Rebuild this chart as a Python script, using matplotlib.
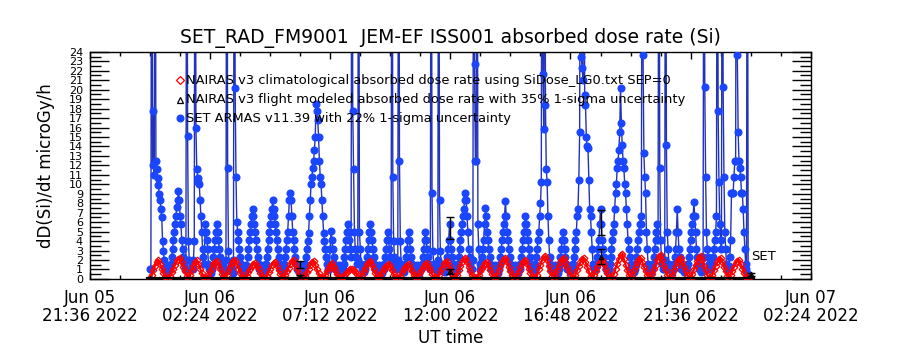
import matplotlib
matplotlib.use("Agg")
import matplotlib.pyplot as plt
import numpy as np
from datetime import datetime, timedelta

# Time axis: minutes after 2022-06-06 00:00 UT
t_ref = datetime(2022, 6, 6, 0, 0)
xlim_min = (-144, 1584)          # Jun 05 21:36 .. Jun 07 02:24
xtick_min = [-144, 144, 432, 720, 1008, 1296, 1584]

# SET ARMAS v11.39 dose rate (microGy/h), one sample every 2 min from 00:00
armas_step = 2
armas_rate = [
    1, 1, 60, 12, 17.7, 11, 60, 12.5, 11.6, 10.7, 9.9, 9, 8.3, 7.4, 6.5, 4, 3, 2, 1, 1.5, 1, 0.6, 1, 1.4,
    1, 1.6, 2.3, 3.2, 4.1, 5, 5.8, 6.7, 7.6, 8.3, 9.3, 8.3, 6.7, 5.8, 4.1, 3.2, 2.3, 1.6, 1, 2, 60, 15.1, 4, 2,
    1, 1, 1.5, 1, 2, 4, 60, 15.9, 11.6, 10.7, 10.2, 10, 8.3, 6.7, 5, 3.2, 2.3, 1.6, 5.8, 5, 4.1, 3.2, 1.6, 1,
    1, 0.6, 1, 1.5, 2.3, 3.2, 4.1, 5, 5.8, 5, 4.1, 3.2, 2.3, 1.6, 1, 1, 1.4, 0.7, 1, 2, 60, 11.7, 3, 1,
    1, 1.5, 1, 0.6, 2, 60, 20.2, 10.8, 6, 5, 4.1, 3.2, 2.3, 1.6, 1, 1, 1.4, 0.7, 1, 1.5, 1, 2.3, 3.2, 4.1,
    5, 5.8, 6.7, 7.4, 6.7, 5.8, 5, 4.1, 3.2, 2.3, 1.6, 1, 1, 1.4, 0.7, 1, 1.5, 1, 1, 1.6, 2.3, 3.2, 4.1, 5,
    5.8, 6.7, 7.4, 8.3, 7.4, 6.7, 5.8, 5, 4.1, 3.2, 2.3, 1.6, 1, 1, 1.4, 0.7, 1, 1.6, 2.3, 3.2, 4.1, 5, 6.7, 8.3,
    9.1, 8.3, 6.7, 5, 4.1, 3.2, 2.3, 1.6, 1, 1, 1.4, 0.7, 1, 1.5, 1, 1, 0.6, 1, 1.6, 2.3, 3.2, 4, 4.9, 6.7,
    8.3, 10, 10.8, 11.7, 12.5, 13.6, 15, 18.5, 17.7, 16.8, 15, 12.5, 10.8, 10, 8.3, 6.7, 4.9, 4, 3.2, 2.3, 1.6, 1, 1, 1.6,
    3.2, 5.1, 4.1, 3.2, 2.3, 1.6, 1, 1, 1.4, 0.7, 1, 1.5, 1, 1, 0.6, 1, 1.6, 2.3, 3.2, 4.1, 5, 5.8, 5, 4.1,
    3.2, 2.3, 60, 17.7, 11.6, 5, 3.2, 2.3, 1.6, 2, 60, 5, 3.2, 1.6, 1, 1, 1.4, 0.7, 1, 1.6, 2.3, 3.2, 4.1, 5,
    5.8, 5, 4.1, 3.2, 2.3, 1.6, 1, 1, 1.4, 0.7, 1, 1.5, 1, 1, 0.6, 1, 1, 1.6, 2.3, 3.2, 4.1, 5, 4.1, 3.2,
    2.3, 2, 60, 10.8, 4, 2.3, 1.6, 1, 1, 2, 60, 12.5, 4, 1.6, 1, 1.4, 0.7, 1, 1.6, 2.3, 3.2, 4.1, 5, 4.1,
    3.2, 2.3, 1.6, 1, 1, 1.4, 0.7, 1, 1.5, 1, 1, 0.6, 1, 1, 1.6, 2.3, 3.2, 4.1, 5, 4.1, 3.2, 2.3, 1.6, 1,
    1, 60, 9.1, 3, 1.6, 1, 1, 1.4, 0.7, 2, 60, 8.3, 3, 1.6, 1, 1, 1.4, 0.7, 1, 1.6, 2.3, 3.2, 4.1, 5.8,
    4.1, 3.2, 2.3, 1.6, 1, 1, 1.4, 0.7, 1, 1.6, 2.3, 3.2, 4.1, 5, 5.8, 6.7, 7.4, 8.3, 9.1, 8.3, 6.7, 5, 3.2, 2.3,
    1.6, 1, 1, 2, 60, 22.7, 12.5, 12.5, 60, 5.8, 3.2, 1.6, 1, 1.6, 2.3, 3.2, 4.1, 5.8, 7.5, 6.7, 5, 4.1, 3.2, 2.3,
    1.6, 1, 1, 1.4, 0.7, 1, 1.5, 1, 1, 0.6, 1, 1.6, 2.3, 3.2, 4.1, 5, 5.8, 6.7, 8.2, 6.7, 5, 4.1, 3.2, 2.3,
    1.6, 1, 1, 1.4, 0.7, 1, 1.5, 1, 1, 0.6, 1, 1, 1.6, 2.3, 3.2, 4.1, 5, 5.8, 6.6, 5.8, 5, 4.1, 3.2, 2.3,
    1.6, 1, 1, 1.4, 0.7, 1, 1.6, 2.3, 3.2, 4.1, 5, 6.6, 8, 10.2, 60, 21.7, 15.8, 60, 18.4, 11.6, 10.2, 6.6, 4.1, 2.3,
    1.6, 1, 1, 1.4, 0.7, 1, 1.5, 1, 1, 0.6, 1, 1.6, 2.3, 3.2, 4.1, 5, 4.1, 3.2, 2.3, 1.6, 1, 1, 1.4, 0.7,
    1, 1.5, 1, 1.6, 2.3, 3.2, 4.1, 5, 6.6, 7.4, 10.5, 15.5, 60, 23.4, 22.3, 21, 60, 19.4, 18.4, 15, 14, 13.8, 10.5, 7.4,
    6.6, 5, 3.2, 1.6, 1, 1, 1.4, 1.6, 2.3, 3.2, 4.1, 5.8, 7.4, 5.8, 4.1, 3.2, 2.3, 1.6, 1, 1, 1.4, 0.7, 1, 1.6,
    2.3, 3.2, 4.1, 5, 5.8, 7.4, 9.1, 10, 11.7, 12.5, 13.6, 15.5, 20.2, 16.5, 14.2, 12.5, 11.7, 10, 9.1, 7.4, 5.8, 4.1, 3.2, 2.3,
    1.6, 1, 1, 1.4, 0.7, 1, 1.6, 2.3, 3.2, 4.1, 5, 5.8, 6.6, 5.8, 60, 23.7, 13.3, 10.8, 9.1, 5, 3.2, 1.6, 1, 1,
    1.4, 0.7, 1, 1.6, 2.3, 3.2, 4.1, 5, 5.8, 4.1, 60, 11.7, 4.1, 2.3, 1.6, 1, 1, 2, 60, 14.2, 5, 3.2, 1.6, 1,
    1, 1.4, 0.7, 1, 1.6, 2.3, 3.2, 5, 7.4, 5, 3.2, 2.3, 1.6, 1, 1, 1.4, 0.7, 1, 1.5, 1, 1, 1.6, 2.3, 3.2,
    4.1, 5, 5.8, 6.6, 8.1, 6.6, 5, 3.2, 2.3, 1.6, 1, 1, 1.4, 0.7, 1, 2.3, 60, 20.3, 10.8, 5, 3.2, 2.3, 1.6, 1,
    1, 1.4, 1.6, 2.3, 3.2, 4.1, 5, 6.6, 60, 17.7, 10.2, 5.8, 4.1, 3.2, 60, 20.3, 10.8, 5, 3.2, 1.6, 1, 1, 1.4, 2.3,
    4.1, 9.1, 9.1, 9.1, 10.8, 12.5, 12.5, 60, 23.7, 15.5, 12.5, 11.7, 10.8, 9.1, 9.1, 7.4, 5, 3.2, 1.6, 1, 60, 0.5,
]

# NAIRAS v3 climatological dose rate, one sample every 4 min from 00:00
nairas_clim_step = 4
nairas_clim = [
    0.1, 0.4, 0.9, 1.4, 1.8, 2.0, 1.6, 1.1, 0.6, 0.2, 0.1, 0.1,
    0.3, 0.7, 1.1, 1.5, 1.9, 2.1, 2.2, 1.8, 1.3, 0.8, 0.3, 0.1,
    0.4, 0.9, 1.4, 1.8, 2.0, 1.6, 1.1, 0.6, 0.2, 0.1, 0.1,
    0.4, 0.8, 1.2, 1.6, 1.8, 1.9, 1.5, 1.0, 0.5, 0.2, 0.1,
    0.4, 0.8, 1.3, 1.7, 1.9, 2.0, 1.6, 1.1, 0.6, 0.2, 0.1, 0.1,
    0.3, 0.7, 1.1, 1.4, 1.6, 1.7, 1.4, 1.0, 0.6, 0.2, 0.1, 0.1,
    0.3, 0.7, 1.1, 1.5, 1.7, 1.8, 1.4, 0.9, 0.5, 0.2, 0.1,
    0.4, 0.8, 1.2, 1.6, 1.9, 2.0, 1.6, 1.1, 0.6, 0.2, 0.1, 0.1,
    0.3, 0.7, 1.1, 1.5, 1.8, 1.9, 1.5, 1.0, 0.6, 0.2, 0.1, 0.1,
    0.4, 0.8, 1.2, 1.5, 1.7, 1.3, 0.9, 0.5, 0.2, 0.1, 0.1,
    0.3, 0.5, 0.7, 0.9, 1.0, 1.0, 0.9, 0.7, 0.5, 0.3, 0.1,
    0.4, 0.8, 1.2, 1.6, 1.8, 1.9, 1.5, 1.0, 0.6, 0.2, 0.1,
    0.3, 0.7, 1.0, 1.3, 1.5, 1.6, 1.3, 0.9, 0.5, 0.2, 0.1, 0.1,
    0.3, 0.7, 1.0, 1.3, 1.5, 1.6, 1.2, 0.8, 0.4, 0.2, 0.1,
    0.3, 0.7, 1.1, 1.4, 1.6, 1.7, 1.3, 0.9, 0.5, 0.2, 0.1, 0.1,
    0.4, 0.8, 1.2, 1.6, 1.8, 1.9, 1.5, 1.0, 0.5, 0.2, 0.1,
    0.4, 0.9, 1.4, 1.8, 2.1, 2.2, 1.8, 1.3, 0.8, 0.4, 0.2, 0.1, 0.1,
    0.4, 0.8, 1.2, 1.5, 1.7, 1.8, 1.4, 0.9, 0.5, 0.2, 0.1,
    0.4, 0.9, 1.4, 1.8, 2.1, 2.2, 1.8, 1.3, 0.8, 0.4, 0.1, 0.1,
    0.4, 0.8, 1.3, 1.7, 1.9, 2.0, 1.6, 1.1, 0.6, 0.2, 0.1, 0.1,
    0.4, 1.0, 1.5, 2.0, 2.3, 2.4, 2.0, 1.4, 0.8, 0.3, 0.1,
    0.4, 0.9, 1.4, 1.8, 2.1, 2.2, 1.8, 1.3, 0.8, 0.4, 0.1, 0.1,
    0.4, 0.9, 1.4, 1.8, 2.1, 2.2, 1.8, 1.3, 0.8, 0.3, 0.1,
    0.4, 0.8, 1.3, 1.7, 1.9, 2.0, 1.6, 1.1, 0.6, 0.2, 0.1, 0.1,
    0.5, 1.1, 1.6, 2.1, 2.5, 2.6, 2.1, 1.5, 0.9, 0.4, 0.1,
    0.4, 0.9, 1.4, 1.8, 2.1, 2.2, 1.8, 1.3, 0.8, 0.4, 0.1, 0.1,
    0.5, 1.0, 1.5, 2.0, 2.4, 2.5, 2.0, 1.4, 0.9, 0.4, 0.1, 0.1,
    0.4, 0.9, 1.4, 1.8, 2.1, 2.2, 1.8, 1.3, 0.8, 0.4, 0.1, 0.1,
    0.5, 1.0, 1.5, 1.9, 2.3, 2.4, 2.0, 1.4, 0.9, 0.4, 0.1, 0.1,
    0.4, 0.9, 1.4, 1.8, 2.1, 2.2, 1.8, 1.3, 0.8, 0.3, 0.1,
    0.4, 0.8, 1.3, 1.7, 1.9, 2.0, 1.6, 1.1, 0.6, 0.2, 0.1, 0.1,
]

# NAIRAS v3 flight modeled (35% 1-sigma), every 6 h
nairas_flt_t = [0, 360, 720, 1080, 1440]
nairas_flt_v = [0.1, 0.3, 0.8, 2.35, 0.5]
nairas_flt_base_t = [-5, 1445]
nairas_flt_base_v = [0, 0]

# SET ARMAS 6 h averages (22% 1-sigma)
armas_avg_t = [360, 720, 1080]
armas_avg_v = [1.55, 5.35, 6.0]

legend_labels = [
    "NAIRAS v3 climatological absorbed dose rate using SiDose_LG0.txt SEP=0",
    "NAIRAS v3 flight modeled absorbed dose rate with 35% 1-sigma uncertainty",
    "SET ARMAS v11.39 with 22% 1-sigma uncertainty",
]

fig = plt.figure(figsize=(9, 3.5), dpi=100)
ax = fig.add_axes([0.1, 0.203, 0.8008, 0.649])

armas_t = np.arange(len(armas_rate)) * armas_step
clim_t = np.arange(len(nairas_clim)) * nairas_clim_step

ax.plot(armas_t, armas_rate, color="#2233bb", lw=1.0, zorder=2)
ax.plot(armas_t, armas_rate, ls="none", marker="o", ms=4.8, color="#1a46ff",
        mec="#1a46ff", zorder=3)
ax.plot(clim_t, nairas_clim, color="red", lw=1.6, zorder=4)
ax.plot(clim_t, nairas_clim, ls="none", marker="D", ms=3.4, mfc="none",
        mec="red", mew=0.9, zorder=4)
ax.plot(nairas_flt_base_t, nairas_flt_base_v, color="black", lw=3, zorder=5)

flt_v = np.array(nairas_flt_v)
ax.errorbar(nairas_flt_t, flt_v, yerr=0.35 * flt_v, fmt="^", ms=3, mfc="none",
            mec="black", ecolor="black", elinewidth=1, capsize=3, zorder=6)
avg_v = np.array(armas_avg_v)
ax.errorbar(armas_avg_t, avg_v, yerr=0.22 * avg_v, fmt="none",
            ecolor="black", elinewidth=1, capsize=3, zorder=6)

ax.text(1440, 2.4, "SET", fontsize=9.5, ha="left", va="center", zorder=7)

# legend drawn by hand, IDL style
leg_y = [0.875, 0.79, 0.707]
ax.plot(0.125, leg_y[0], transform=ax.transAxes, marker="D", ms=3.6,
        mfc="none", mec="red", mew=0.9, clip_on=False, zorder=8)
ax.plot(0.125, leg_y[1], transform=ax.transAxes, marker="^", ms=4,
        mfc="none", mec="black", mew=0.9, clip_on=False, zorder=8)
ax.plot(0.125, leg_y[2], transform=ax.transAxes, marker="o", ms=4.8,
        color="#1a46ff", clip_on=False, zorder=8)
for y, lab in zip(leg_y, legend_labels):
    ax.text(0.133, y, lab, transform=ax.transAxes, fontsize=9.4, va="center",
            ha="left", zorder=8)

ax.set_xlim(*xlim_min)
ax.set_ylim(0, 24)

ax.set_xticks(xtick_min)
ax.set_xticklabels([(t_ref + timedelta(minutes=m)).strftime("%b %d\n%H:%M %Y")
                    for m in xtick_min], fontsize=12, linespacing=1.0)
ax.set_xticks(np.arange(xlim_min[0], xlim_min[1] + 1, 72), minor=True)
ax.set_yticks(np.arange(0, 25, 1))
ax.set_yticklabels([str(v) for v in range(25)], fontsize=8)
ax.set_yticks(np.arange(0, 24.01, 0.5), minor=True)

ax.tick_params(axis="x", which="major", direction="in", length=5, width=1,
               top=True, bottom=True, pad=7)
ax.tick_params(axis="x", which="minor", direction="in", length=3, width=1,
               top=True, bottom=True)
ax.tick_params(axis="y", which="major", direction="in", length=14, width=1,
               left=True, right=True, pad=5)
ax.tick_params(axis="y", which="minor", direction="in", length=8, width=1,
               left=True, right=True)
for sp in ax.spines.values():
    sp.set_linewidth(1)

ax.set_title("SET_RAD_FM9001  JEM-EF ISS001 absorbed dose rate (Si)",
             fontsize=13.5, pad=6)
ax.set_xlabel("UT time", fontsize=12, labelpad=3)
ax.set_ylabel("dD(Si)/dt microGy/h", fontsize=12, labelpad=10)

fig.savefig("out.png", dpi=100)
